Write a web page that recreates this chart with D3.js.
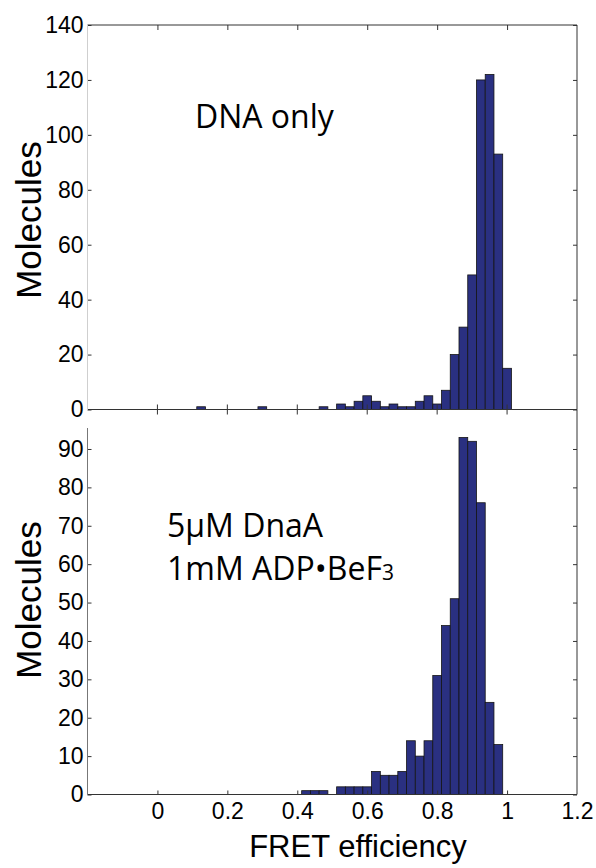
<!DOCTYPE html>
<html>
<head>
<meta charset="utf-8">
<script src="https://cdn.jsdelivr.net/npm/d3@7"></script>
<style>
  body { margin: 0; background: #fff; }
  svg { display: block; font-family: 'Open Sans', sans-serif; }
  .tick text { font-size: 23px; fill: #000; }
  .tick line { stroke: #333; }
  .title { font-family: 'Liberation Sans', Arial, sans-serif; }
</style>
</head>
<body>
<div id="chart"></div>
<script>
// histogram bins (bin centres) and counts
const binWidth = 0.025;

const effTop = [0.125, 0.3, 0.475, 0.525, 0.55, 0.575, 0.6, 0.625, 0.65, 0.675, 0.7, 0.725,
  0.75, 0.775, 0.8, 0.825, 0.85, 0.875, 0.9, 0.925, 0.95, 0.975, 1.0];
const countTop = [1, 1, 1, 2, 1, 3, 5, 3, 1, 2, 1, 1, 3, 5, 2, 7, 20, 30, 49, 120, 122, 93, 15];

const effBottom = [0.425, 0.45, 0.475, 0.525, 0.55, 0.575, 0.6, 0.625, 0.65, 0.675, 0.7, 0.725,
  0.75, 0.775, 0.8, 0.825, 0.85, 0.875, 0.9, 0.925, 0.95, 0.975];
const countBottom = [1, 1, 1, 2, 2, 2, 2, 6, 5, 5, 6, 14, 10, 14, 31, 44, 51, 93, 92, 76, 24, 13];

const xTicks = [0, 0.2, 0.4, 0.6, 0.8, 1, 1.2];
const yTicksTop = [0, 20, 40, 60, 80, 100, 120, 140];
const yTicksBottom = [0, 10, 20, 30, 40, 50, 60, 70, 80, 90];

const width = 596, height = 868;
const left = 87.5, right = 577;
const barColor = '#2a3081';

const $svg = d3.select('#chart').append('svg')
  .attr('width', width)
  .attr('height', height);

const xScale = d3.scaleLinear().domain([-0.2, 1.2]).range([left, right]);
const yTop = d3.scaleLinear().domain([0, 140]).range([409.5, 25]);
const yBottom = d3.scaleLinear().domain([0, 100]).range([794.5, 410.6]);

function drawBars($g, effs, counts, y) {
  $g.selectAll('.bar')
    .data(effs)
    .enter()
    .append('rect')
    .classed('bar', true)
    .attr('x', d => xScale(d - binWidth / 2))
    .attr('width', d => xScale(d + binWidth / 2) - xScale(d - binWidth / 2))
    .attr('y', (d, i) => y(counts[i]))
    .attr('height', (d, i) => y(0) - y(counts[i]))
    .style('fill', barColor)
    .style('stroke', '#151515')
    .style('stroke-width', 0.8);
}

function spine($g, x1, y1, x2, y2, color) {
  $g.append('line')
    .attr('x1', x1).attr('y1', y1)
    .attr('x2', x2).attr('y2', y2)
    .style('stroke', color || '#333')
    .style('stroke-width', 1);
}

// ---- bottom panel (drawn first, top panel sits over it)
const $bottom = $svg.append('g');
drawBars($bottom, effBottom, countBottom, yBottom);

$bottom.append('g')
  .attr('transform', `translate(${left},0)`)
  .call(d3.axisLeft(yBottom).tickValues(yTicksBottom).tickSize(-4).tickPadding(4).tickFormat(d3.format('d')))
  .call(g => g.select('.domain').remove());

$bottom.append('g')
  .attr('transform', `translate(${right},0)`)
  .call(d3.axisRight(yBottom).tickValues(yTicksBottom).tickSize(-4).tickFormat(''))
  .call(g => g.select('.domain').remove());

$bottom.append('g')
  .attr('transform', `translate(0,${yBottom(0)})`)
  .call(d3.axisBottom(xScale).tickValues(xTicks).tickSize(-4).tickPadding(8).tickFormat(d3.format('')))
  .call(g => g.select('.domain').remove())
  .call(g => g.selectAll('.tick line').filter(d => d === 1.2).remove());

spine($bottom, left, yBottom(0), right, yBottom(0));
spine($bottom, left, 428, left, yBottom(0), '#777');
spine($bottom, right, yTop(0), right, yBottom(0));

// ---- top panel
const $top = $svg.append('g');
drawBars($top, effTop, countTop, yTop);

$top.append('g')
  .attr('transform', `translate(${left},0)`)
  .call(d3.axisLeft(yTop).tickValues(yTicksTop).tickSize(-4).tickPadding(4))
  .call(g => g.select('.domain').remove());

$top.append('g')
  .attr('transform', `translate(${right},0)`)
  .call(d3.axisRight(yTop).tickValues(yTicksTop).tickSize(-4).tickFormat(''))
  .call(g => g.select('.domain').remove());

$top.append('g')
  .attr('transform', `translate(0,${yTop(140)})`)
  .call(d3.axisTop(xScale).tickValues(xTicks.slice(0, 6)).tickSize(-5).tickFormat(''))
  .call(g => g.select('.domain').remove());

// ticks crossing the zero line
$top.selectAll('.zero-tick')
  .data(xTicks.slice(0, 6))
  .enter()
  .append('line')
  .classed('zero-tick', true)
  .attr('x1', d => xScale(d)).attr('x2', d => xScale(d))
  .attr('y1', yTop(0) - 5).attr('y2', yTop(0) + 5)
  .style('stroke', '#333');

spine($top, left, yTop(140), right, yTop(140));
spine($top, left, yTop(0), right, yTop(0));
spine($top, left, yTop(140), left, yTop(0) + 1, '#cfcfcf');
spine($top, right, yTop(140), right, yTop(0));

// ---- labels
$svg.append('text')
  .classed('title', true)
  .attr('transform', `translate(41,220) rotate(-90)`)
  .attr('text-anchor', 'middle')
  .style('font-size', '35px')
  .text('Molecules');

$svg.append('text')
  .classed('title', true)
  .attr('transform', `translate(41,600) rotate(-90)`)
  .attr('text-anchor', 'middle')
  .style('font-size', '35px')
  .text('Molecules');

$svg.append('text')
  .classed('title', true)
  .attr('x', 358)
  .attr('y', 857)
  .attr('text-anchor', 'middle')
  .style('font-size', '31px')
  .text('FRET efficiency');

$svg.append('text')
  .attr('x', 195)
  .attr('y', 128)
  .style('font-size', '32px')
  .text('DNA only');

$svg.append('text')
  .attr('x', 167)
  .attr('y', 537)
  .style('font-size', '32px')
  .text('5µM DnaA');

const $l2 = $svg.append('text')
  .attr('x', 167)
  .attr('y', 580)
  .style('font-size', '32px');
$l2.append('tspan').text('1mM ADP•BeF');
$l2.append('tspan').style('font-size', '21px').text('3');
</script>
</body>
</html>
